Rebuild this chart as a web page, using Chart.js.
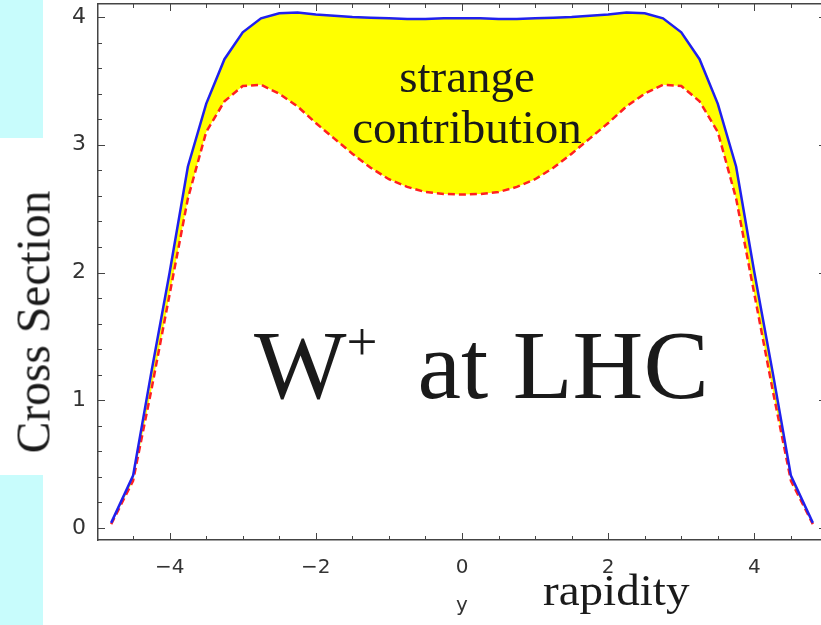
<!DOCTYPE html>
<html>
<head>
    <title>W+ at LHC</title>
    <script src="https://cdn.jsdelivr.net/npm/chart.js"></script>
    <style>
        html, body { margin: 0; padding: 0; overflow: hidden; background: #fff; }
        #wrap { position: relative; width: 821px; height: 625px; overflow: hidden; }
        #chartBox { position: absolute; left: 0; top: 0; width: 840px; height: 625px; }
        .cyan { position: absolute; left: 0; width: 43px; background: #c8fcfc; }
        .serif { position: absolute; font-family: "Liberation Serif", "Times New Roman", serif; color: #1a1a1a; white-space: nowrap; line-height: 1; }
    </style>
</head>
<body>
<div id="wrap">
    <div class="cyan" style="top:0; height:138px;"></div>
    <div class="cyan" style="top:475px; height:150px;"></div>
    <div id="chartBox"><canvas id="xsChart"></canvas></div>

    <div class="serif" style="left:317px; top:51px; width:300px; text-align:center; font-size:47px; line-height:51px;">strange<br>contribution</div>
    <div class="serif" style="left:254px; top:316px; font-size:98px;">W<span style="font-size:55px; position:relative; top:-38px;">+</span><span style="margin-left:40px;">at LHC</span></div>
    <div class="serif" style="left:33px; top:322px; font-size:49px; transform:translate(-50%,-50%) rotate(-90deg) scaleX(0.97);">Cross Section</div>
    <div class="serif" style="left:543px; top:569px; font-size:44px; transform:scaleX(1.07); transform-origin:left center;">rapidity</div>
</div>

<script>
    // rapidity grid and the two curves
    const rapidity = [-4.8, -4.5, -4.25, -4, -3.75, -3.5, -3.25, -3, -2.75, -2.5, -2.25, -2, -1.75, -1.5, -1.25, -1, -0.75, -0.5, -0.25, 0,
                      0.25, 0.5, 0.75, 1, 1.25, 1.5, 1.75, 2, 2.25, 2.5, 2.75, 3, 3.25, 3.5, 3.75, 4, 4.25, 4.5, 4.8];
    // full cross section (blue, solid)
    const total = [0.04, 0.41, 1.22, 2.0, 2.83, 3.32, 3.67, 3.88, 3.99, 4.03, 4.035, 4.02, 4.01, 4.0, 3.995, 3.99, 3.985, 3.985, 3.99, 3.99,
                   3.99, 3.985, 3.985, 3.99, 3.995, 4.0, 4.01, 4.02, 4.035, 4.03, 3.99, 3.88, 3.67, 3.32, 2.83, 2.0, 1.22, 0.41, 0.04];
    // without strange quarks (red, dashed)
    const noStrange = [0.03, 0.37, 1.08, 1.83, 2.58, 3.1, 3.34, 3.46, 3.47, 3.4, 3.3, 3.17, 3.05, 2.93, 2.82, 2.73, 2.67, 2.63, 2.615, 2.61,
                       2.615, 2.63, 2.67, 2.73, 2.82, 2.93, 3.05, 3.17, 3.3, 3.4, 3.47, 3.46, 3.34, 3.1, 2.58, 1.83, 1.08, 0.37, 0.03];

    const xTickLabels = [-4, -2, 0, 2, 4];
    const yTickLabels = [0, 1, 2, 3, 4];

    const frameColor = '#444';

    // inward frame ticks like the original (major + minor)
    const frameTicks = {
        id: 'frameTicks',
        afterDraw(chart) {
            const { ctx, chartArea: a, scales: { x, y } } = chart;
            ctx.save();
            ctx.strokeStyle = frameColor;
            ctx.lineWidth = 1;
            ctx.beginPath();
            for (let i = -9; i <= 9; i++) {
                const px = Math.round(x.getPixelForValue(i / 2)) + 0.5;
                const len = i % 4 === 0 ? 7 : 4;
                ctx.moveTo(px, a.bottom); ctx.lineTo(px, a.bottom - len);
                ctx.moveTo(px, a.top); ctx.lineTo(px, a.top + len);
            }
            for (let i = 0; i <= 20; i++) {
                const py = Math.round(y.getPixelForValue(i / 5)) + 0.5;
                const len = i % 5 === 0 ? 7 : 4;
                ctx.moveTo(a.left, py); ctx.lineTo(a.left + len, py);
                ctx.moveTo(a.right, py); ctx.lineTo(a.right - len, py);
            }
            ctx.stroke();
            ctx.restore();
        }
    };

    const minus = v => v < 0 ? '\u2212' + Math.abs(v) : String(v);
    // drop the label overhang padding so the frame sits where the original is
    const noPad = s => { s.paddingTop = 0; s.paddingBottom = 0; s.paddingLeft = 0; s.paddingRight = 0; };

    new Chart(document.getElementById('xsChart'), {
        type: 'line',
        data: {
            datasets: [{
                label: 'total',
                data: rapidity.map((r, i) => ({ x: r, y: total[i] })),
                borderColor: '#2020ee',
                borderWidth: 2.5,
                backgroundColor: '#ffff00',
                fill: '+1',
                pointRadius: 0,
                tension: 0
            }, {
                label: 'no strange',
                data: rapidity.map((r, i) => ({ x: r, y: noStrange[i] })),
                borderColor: '#ff2020',
                borderWidth: 2.5,
                borderDash: [7, 4],
                fill: false,
                pointRadius: 0,
                tension: 0
            }]
        },
        options: {
            responsive: true,
            maintainAspectRatio: false,
            animation: false,
            layout: { padding: 0 },
            plugins: {
                legend: { display: false },
                tooltip: { enabled: false },
                filler: { drawTime: 'beforeDatasetsDraw' }
            },
            scales: {
                x: {
                    type: 'linear', position: 'bottom', min: -4.98, max: 4.98,
                    afterBuildTicks: s => { s.ticks = xTickLabels.map(v => ({ value: v })); },
                    afterFit: s => { s.height = 85; noPad(s); },
                    ticks: { font: { family: 'DejaVu Sans', size: 20 }, color: '#333', padding: 8, maxRotation: 0, autoSkip: false, callback: minus },
                    grid: { display: false },
                    border: { display: true, color: frameColor, width: 1.5 },
                    title: { display: true, text: 'y', font: { family: 'DejaVu Sans', size: 20 }, color: '#333', padding: { top: 0, bottom: 7 } }
                },
                xTop: {
                    type: 'linear', position: 'top', min: -4.98, max: 4.98,
                    afterFit: s => { s.height = 4; noPad(s); },
                    ticks: { display: false },
                    grid: { display: false },
                    border: { display: true, color: frameColor, width: 1.5 }
                },
                y: {
                    type: 'linear', position: 'left', min: -0.094, max: 4.102,
                    afterBuildTicks: s => { s.ticks = yTickLabels.map(v => ({ value: v })); },
                    afterFit: s => { s.width = 98; noPad(s); },
                    ticks: { font: { family: 'DejaVu Sans', size: 22 }, color: '#333', padding: 4 },
                    grid: { display: false },
                    border: { display: true, color: frameColor, width: 1.5 }
                },
                yRight: {
                    type: 'linear', position: 'right', min: -0.094, max: 4.102,
                    afterFit: s => { s.width = 14; noPad(s); },
                    ticks: { display: false },
                    grid: { display: false },
                    border: { display: true, color: frameColor, width: 1.5 }
                }
            }
        },
        plugins: [frameTicks]
    });
</script>
</body>
</html>
